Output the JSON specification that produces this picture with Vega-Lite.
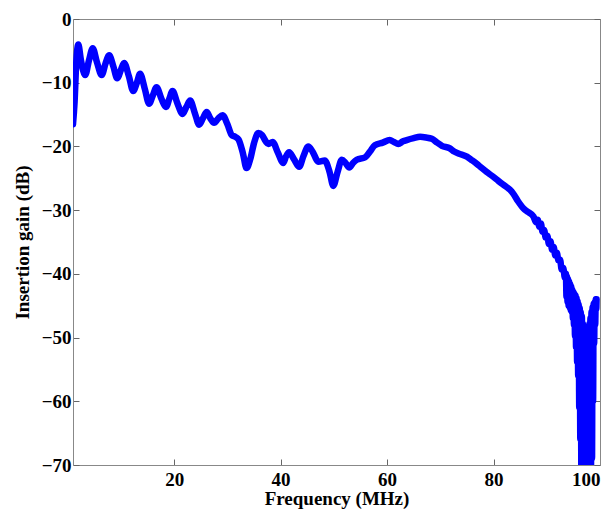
{
  "$schema": "https://vega.github.io/schema/vega-lite/v6.json",
  "width": 527,
  "height": 446,
  "autosize": {"type": "none"},
  "padding": {"left": 73, "top": 19, "right": 16, "bottom": 49},
  "background": "white",
  "config": {
    "view": {"stroke": null},
    "axis": {
      "grid": false,
      "domainColor": "#888888",
      "tickColor": "#666666",
      "tickSize": -6,
      "labelFont": "Liberation Serif",
      "labelFontWeight": "bold",
      "labelFontSize": 19,
      "labelColor": "black",
      "titleFont": "Liberation Serif",
      "titleFontWeight": "bold",
      "titleFontSize": 19,
      "titleColor": "black"
    }
  },
  "data": {"values": [
    {"f": 1.0, "g": -16.5}, {"f": 1.3, "g": -13}, {"f": 1.6, "g": -7}, {"f": 2.0, "g": -4.0},
    {"f": 2.5, "g": -6.5}, {"f": 3.3, "g": -8.8}, {"f": 4.0, "g": -6.5}, {"f": 4.7, "g": -4.6},
    {"f": 5.5, "g": -6.8}, {"f": 6.4, "g": -8.8}, {"f": 7.1, "g": -7.0}, {"f": 7.8, "g": -5.7},
    {"f": 8.6, "g": -7.5}, {"f": 9.3, "g": -9.3}, {"f": 10.0, "g": -8.0}, {"f": 10.6, "g": -6.9},
    {"f": 11.5, "g": -9.0}, {"f": 12.3, "g": -11.3}, {"f": 13.0, "g": -10.0}, {"f": 13.6, "g": -8.6},
    {"f": 14.5, "g": -11.0}, {"f": 15.3, "g": -13.3}, {"f": 16.0, "g": -12.0}, {"f": 16.7, "g": -10.7},
    {"f": 17.6, "g": -12.5}, {"f": 18.5, "g": -13.8}, {"f": 19.1, "g": -12.5}, {"f": 19.7, "g": -11.3},
    {"f": 20.6, "g": -13.2}, {"f": 21.6, "g": -14.9}, {"f": 22.3, "g": -13.8}, {"f": 23.0, "g": -12.8},
    {"f": 23.9, "g": -14.8}, {"f": 24.7, "g": -16.6}, {"f": 25.4, "g": -15.6}, {"f": 26.1, "g": -14.6},
    {"f": 26.8, "g": -15.6}, {"f": 27.5, "g": -16.3}, {"f": 28.3, "g": -15.6}, {"f": 29.1, "g": -15.1},
    {"f": 30.0, "g": -16.5}, {"f": 30.8, "g": -18.2}, {"f": 31.5, "g": -18.5}, {"f": 32.1, "g": -18.9},
    {"f": 32.9, "g": -21}, {"f": 33.6, "g": -23.4}, {"f": 34.3, "g": -22}, {"f": 35.0, "g": -19.5},
    {"f": 35.8, "g": -17.9}, {"f": 36.5, "g": -18.2}, {"f": 37.2, "g": -19.2}, {"f": 37.7, "g": -19.6},
    {"f": 38.5, "g": -19.3}, {"f": 39.5, "g": -21}, {"f": 40.5, "g": -22.6}, {"f": 41.0, "g": -21.6},
    {"f": 41.6, "g": -20.9}, {"f": 42.5, "g": -22}, {"f": 43.5, "g": -23.2}, {"f": 44.3, "g": -21.5},
    {"f": 45.2, "g": -20.0}, {"f": 46.0, "g": -20.8}, {"f": 47.1, "g": -22.4}, {"f": 48.3, "g": -22.2},
    {"f": 49.2, "g": -24}, {"f": 49.9, "g": -26.2}, {"f": 50.7, "g": -24}, {"f": 51.5, "g": -22.1},
    {"f": 52.2, "g": -22.6}, {"f": 52.9, "g": -23.3}, {"f": 53.6, "g": -22.6}, {"f": 54.3, "g": -22.1},
    {"f": 55.9, "g": -21.7}, {"f": 56.8, "g": -20.8}, {"f": 57.7, "g": -19.8}, {"f": 59.2, "g": -19.4},
    {"f": 60.5, "g": -19.0}, {"f": 61.3, "g": -19.3}, {"f": 62.1, "g": -19.6}, {"f": 63.0, "g": -19.2},
    {"f": 63.7, "g": -19.0}, {"f": 65.0, "g": -18.7}, {"f": 66.2, "g": -18.5}, {"f": 67.3, "g": -18.6},
    {"f": 68.4, "g": -18.8}, {"f": 69.4, "g": -19.4}, {"f": 70.3, "g": -19.9}, {"f": 71.8, "g": -20.3},
    {"f": 72.6, "g": -20.8}, {"f": 73.4, "g": -21.1}, {"f": 75.0, "g": -21.6}, {"f": 76.0, "g": -22.2},
    {"f": 76.8, "g": -22.7}, {"f": 77.8, "g": -23.4}, {"f": 78.7, "g": -24.0}, {"f": 79.7, "g": -24.6},
    {"f": 80.6, "g": -25.2}, {"f": 81.5, "g": -25.8}, {"f": 82.5, "g": -26.4}, {"f": 83.1, "g": -26.8},
    {"f": 83.7, "g": -27.4}, {"f": 84.6, "g": -28.6}, {"f": 85.6, "g": -29.7}, {"f": 86.5, "g": -30.3},
    {"f": 87.5, "g": -31.0}, {"f": 88.0, "g": -31.9}, {"f": 88.3, "g": -31.5}, {"f": 88.6, "g": -32.6},
    {"f": 88.9, "g": -32.1}, {"f": 89.2, "g": -33.4}, {"f": 89.5, "g": -33.1}, {"f": 89.8, "g": -34.3},
    {"f": 90.1, "g": -34.0}, {"f": 90.4, "g": -35.3}, {"f": 90.7, "g": -34.9}, {"f": 91.0, "g": -36.2},
    {"f": 91.3, "g": -35.8}, {"f": 91.6, "g": -37.1}, {"f": 91.9, "g": -36.7}, {"f": 92.2, "g": -37.9},
    {"f": 92.5, "g": -37.8}, {"f": 92.8, "g": -39.3}, {"f": 93.1, "g": -39.1}, {"f": 93.4, "g": -40.6},
    {"f": 93.6, "g": -40.0}, {"f": 93.7, "g": -43.6}, {"f": 93.8, "g": -40.4}, {"f": 93.9, "g": -44.4},
    {"f": 94.0, "g": -40.8}, {"f": 94.1, "g": -45.0}, {"f": 94.2, "g": -41.2}, {"f": 94.3, "g": -45.3},
    {"f": 94.4, "g": -41.6}, {"f": 94.5, "g": -45.7}, {"f": 94.6, "g": -42.0}, {"f": 94.7, "g": -46.0},
    {"f": 94.8, "g": -42.5}, {"f": 94.9, "g": -47.0}, {"f": 95.0, "g": -42.8}, {"f": 95.1, "g": -48.0},
    {"f": 95.2, "g": -43.1}, {"f": 95.3, "g": -49.8}, {"f": 95.4, "g": -43.4}, {"f": 95.5, "g": -51.5},
    {"f": 95.6, "g": -43.8}, {"f": 95.7, "g": -53.8}, {"f": 95.8, "g": -44.3}, {"f": 95.9, "g": -56},
    {"f": 96.0, "g": -44.8}, {"f": 96.1, "g": -61}, {"f": 96.2, "g": -45.3}, {"f": 96.3, "g": -66},
    {"f": 96.4, "g": -46.0}, {"f": 96.5, "g": -72}, {"f": 96.6, "g": -46.6}, {"f": 96.7, "g": -72},
    {"f": 96.8, "g": -47.8}, {"f": 96.9, "g": -72}, {"f": 97.0, "g": -48.7}, {"f": 97.1, "g": -72},
    {"f": 97.2, "g": -49.6}, {"f": 97.3, "g": -72}, {"f": 97.4, "g": -50.5}, {"f": 97.5, "g": -72},
    {"f": 97.6, "g": -49.7}, {"f": 97.7, "g": -72}, {"f": 97.8, "g": -48.8}, {"f": 97.9, "g": -72},
    {"f": 98.0, "g": -47.8}, {"f": 98.1, "g": -72}, {"f": 98.2, "g": -46.9}, {"f": 98.3, "g": -72},
    {"f": 98.4, "g": -45.9}, {"f": 98.5, "g": -69}, {"f": 98.6, "g": -45.2}, {"f": 98.7, "g": -60},
    {"f": 98.8, "g": -44.7}, {"f": 98.9, "g": -51}, {"f": 99.0, "g": -44.4}, {"f": 99.1, "g": -48},
    {"f": 99.2, "g": -44.0}, {"f": 99.3, "g": -45.5}, {"f": 99.35, "g": -44.0}
  ]},
  "layer": [
    {
      "mark": {"type": "line", "color": "#0000ff", "strokeWidth": 6.5, "clip": true, "strokeJoin": "round", "strokeCap": "round", "interpolate": "monotone"},
      "encoding": {
        "x": {"field": "f", "type": "quantitative", "scale": {"domain": [1, 100], "nice": false, "zero": false},
              "axis": {"orient": "bottom", "values": [20, 40, 60, 80, 100], "title": "Frequency (MHz)", "labelPadding": 11, "titlePadding": 0}},
        "y": {"field": "g", "type": "quantitative", "scale": {"domain": [-70, 0], "nice": false},
              "axis": {"orient": "left", "values": [-70, -60, -50, -40, -30, -20, -10, 0], "title": "Insertion gain (dB)", "labelPadding": 8, "titlePadding": 9}}
      }
    },
    {
      "mark": {"type": "line", "opacity": 0},
      "encoding": {
        "x": {"field": "f", "type": "quantitative", "axis": {"orient": "top", "values": [20, 40, 60, 80, 100], "labels": false, "title": null}},
        "y": {"field": "g", "type": "quantitative", "axis": {"orient": "right", "values": [-70, -60, -50, -40, -30, -20, -10, 0], "labels": false, "title": null}}
      }
    }
  ],
  "resolve": {"axis": {"x": "independent", "y": "independent"}}
}
